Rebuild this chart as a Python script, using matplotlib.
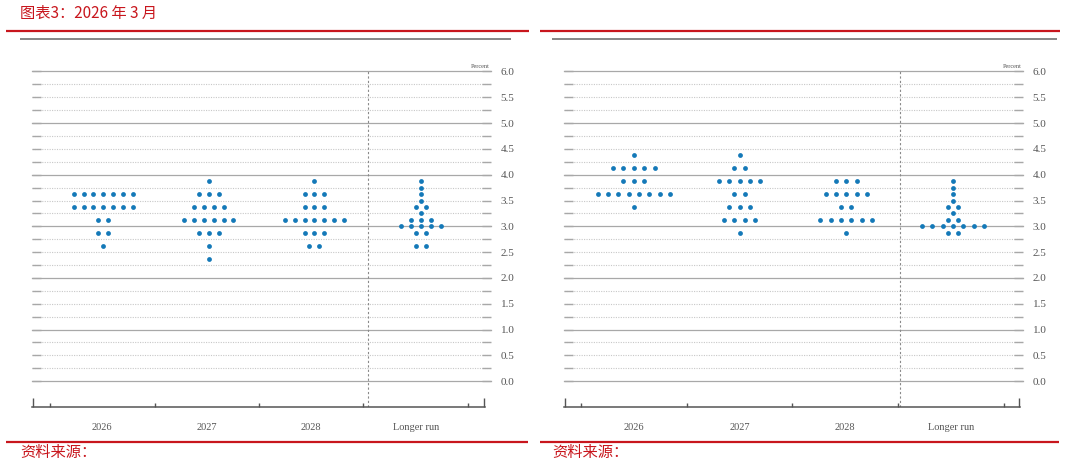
import matplotlib
matplotlib.use('Agg')

import matplotlib.pyplot as plt
import numpy as np
from matplotlib.lines import Line2D

# columns shown on both dot plots
categories = ['2026', '2027', '2028', 'Longer run']

# left panel (March 2026): midpoint rate -> number of participants
left_2026 = {3.625: 7, 3.375: 7, 3.125: 2, 2.875: 2, 2.625: 1}
left_2027 = {3.875: 1, 3.625: 3, 3.375: 4, 3.125: 6, 2.875: 3, 2.625: 1, 2.375: 1}
left_2028 = {3.875: 1, 3.625: 3, 3.375: 3, 3.125: 7, 2.875: 3, 2.625: 2}
left_longer = {3.875: 1, 3.75: 1, 3.625: 1, 3.5: 1, 3.375: 2, 3.25: 1,
               3.125: 3, 3.0: 5, 2.875: 2, 2.625: 2}

# right panel
right_2026 = {4.375: 1, 4.125: 5, 3.875: 3, 3.625: 8, 3.375: 1}
right_2027 = {4.375: 1, 4.125: 2, 3.875: 5, 3.625: 2, 3.375: 3, 3.125: 4, 2.875: 1}
right_2028 = {3.875: 3, 3.625: 5, 3.375: 2, 3.125: 6, 2.875: 1}
right_longer = {3.875: 1, 3.75: 1, 3.625: 1, 3.5: 1, 3.375: 2, 3.25: 1,
                3.125: 2, 3.0: 7, 2.875: 2}

y_ticks = np.arange(0, 6.01, 0.5)

W, H = 1066, 466
DOT = '#1479b8'
RED = '#c8161d'
CJK = ['Noto Sans CJK SC', 'DejaVu Sans']
SERIF = 'Liberation Serif'

fig = plt.figure(figsize=(W / 100, H / 100), dpi=100)


def px(x, y):
    return x / W, 1 - y / H


def fig_line(x0, x1, y, color, lw):
    a, b = px(x0, y)
    c, _ = px(x1, y)
    fig.add_artist(Line2D([a, c], [b, b], color=color, lw=lw, solid_capstyle='butt'))


def panel(left_px, right_px, zero_px, col_w, columns, centers, vline_x, spacing, axis_end):
    # axes box: top at 6.0 (y=71.5px), bottom spine at y=407px
    x0 = (left_px - zero_px) / col_w
    x1 = (right_px - zero_px) / col_w
    l, b = px(left_px, 407)
    r, t = px(right_px, 71.5)
    ax = fig.add_axes([l, b, r - l, t - b])
    ax.set_xlim(x0, x1)
    ax.set_ylim(-0.5, 6.0)

    # grid: solid at whole numbers, dotted at quarter points
    for v in np.arange(0, 6.01, 0.25):
        if v % 1 == 0:
            ax.axhline(v, color='#a8a8a8', lw=0.9, zorder=1, clip_on=False)
        else:
            ax.axhline(v, color='#c8c8c8', lw=0.8, ls=(0, (1, 1.2)), zorder=1)

    ax.axvline(vline_x, color='#8a8a8a', lw=0.8, ls=(0, (2, 2)), zorder=1)

    for c, col in zip(centers, columns):
        for rate, n in col.items():
            xs = c + (np.arange(n) - (n - 1) / 2) * spacing
            ax.scatter(xs, [rate] * n, s=12, color=DOT, linewidths=0, zorder=3)

    for s in ['top', 'left', 'right']:
        ax.spines[s].set_visible(False)
    ax.spines['bottom'].set_bounds(x0, axis_end)
    ax.spines['bottom'].set_color('#555555')
    ax.spines['bottom'].set_linewidth(1.1)

    ax.set_xticks(np.arange(5))
    ax.set_xticklabels([])
    ax.set_xticks([x0 + 0.005, axis_end - 0.005], minor=True)
    ax.tick_params(axis='x', which='major', direction='in', length=3, width=1, color='#555555')
    ax.tick_params(axis='x', which='minor', direction='in', length=6.5, width=1, color='#555555')

    ax.set_yticks(y_ticks)
    ax.set_yticklabels([f'{v:.1f}' for v in y_ticks], fontfamily=SERIF, fontsize=8, color='#555555')
    ax.set_yticks(np.arange(0.25, 6, 0.5), minor=True)
    ax.tick_params(axis='y', which='both', direction='in', length=6.5, width=1, color='#a8a8a8',
                   left=True, right=True, labelleft=False, labelright=True, pad=7)

    for i, cat in enumerate(categories):
        ax.annotate(cat, xy=(i + 0.5, 0), xycoords=ax.get_xaxis_transform(),
                    xytext=(0, -14.5), textcoords='offset points', ha='center', va='center',
                    fontfamily=SERIF, fontsize=7.5, color='#555555')
    return ax


panel(32, 491, 50, 104.5, [left_2026, left_2027, left_2028, left_longer],
      [0.51, 1.52, 2.53, 3.55], 3.04, 0.094, 4.16)
panel(564, 1023, 581, 105.7, [right_2026, right_2027, right_2028, right_longer],
      [0.50, 1.50, 2.51, 3.52], 3.02, 0.098, 4.153)

# "Percent" labels
for x in (490, 1022):
    fig.text(*px(x, 67), 'Percent', ha='right', va='center', fontfamily=SERIF,
             fontsize=4.5, color='#555555')

# header / footer rules
fig_line(6, 529, 30.5, RED, 1.6)
fig_line(540, 1060, 30.5, RED, 1.6)
fig_line(20, 511, 38.5, '#666666', 1.1)
fig_line(552, 1057, 38.5, '#666666', 1.1)
fig_line(6, 528, 441.5, RED, 1.6)
fig_line(540, 1059, 441.5, RED, 1.6)

fig.text(*px(20, 13), '图表3：2026 年 3 月', ha='left', va='center', fontfamily=CJK,
         fontsize=11, color=RED)
fig.text(*px(20, 453), '资料来源：', ha='left', va='center', fontfamily=CJK,
         fontsize=11, color=RED)
fig.text(*px(552, 453), '资料来源：', ha='left', va='center', fontfamily=CJK,
         fontsize=11, color=RED)

fig.savefig('out.png', dpi=100)
